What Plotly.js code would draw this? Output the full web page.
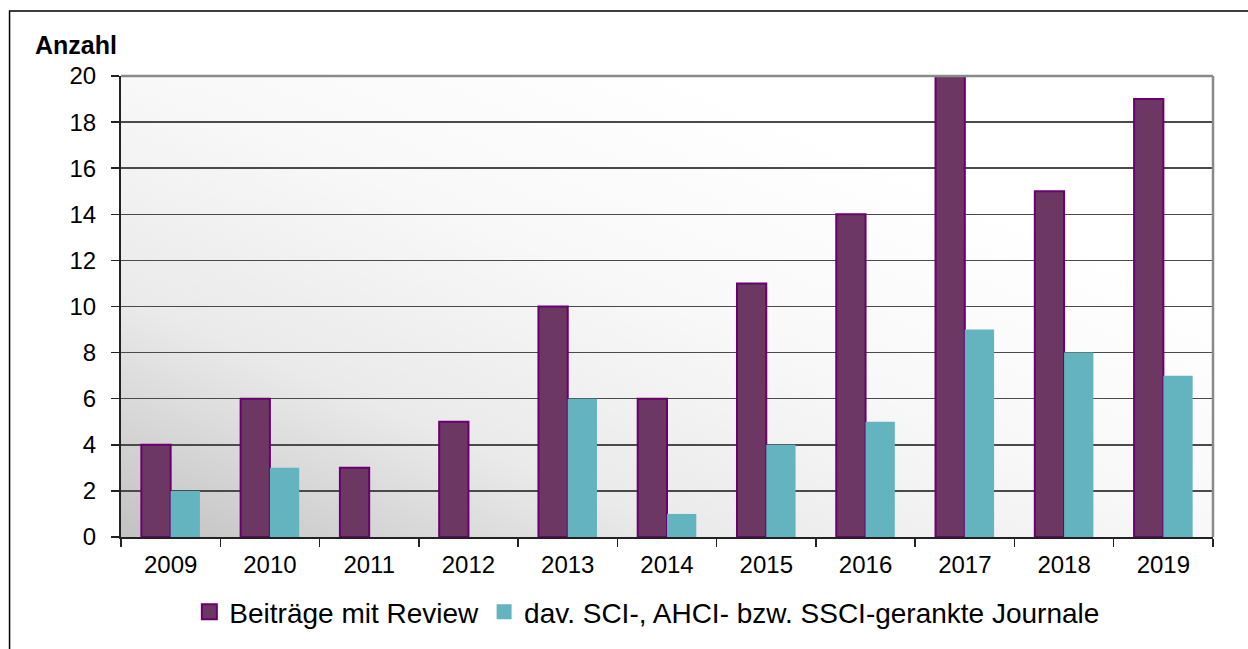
<!DOCTYPE html>
<html>
<head>
<meta charset="utf-8">
<script src="https://cdn.plot.ly/plotly-3.0.1.min.js"></script>
<style>
  html, body { margin: 0; padding: 0; background: #fff; }
  #chart { width: 1248px; height: 649px; }
</style>
</head>
<body>
<div id="chart"></div>
<script>
const years = ['2009','2010','2011','2012','2013','2014','2015','2016','2017','2018','2019'];
const reviewCounts = [4, 6, 3, 5, 10, 6, 11, 14, 20, 15, 19];
const rankedCounts = [2, 3, 0, 0, 6, 1, 4, 5, 9, 8, 7];
const seriesNames = ['Beiträge mit Review', 'dav. SCI-, AHCI- bzw. SSCI-gerankte Journale'];
const yTitle = 'Anzahl';

const W = 1248, H = 649;
const L = 121, R = 34.5, T = 76, B = 112;
const PW = W - L - R, PH = H - T - B;
const px2x = p => (p - L) / PW;
const py2y = p => (H - B - p) / PH;

// gradient background for the plot area (diagonal in normalised box space)
const cv = document.createElement('canvas');
cv.width = Math.round(PW); cv.height = Math.round(PH);
const ctx = cv.getContext('2d');
ctx.scale(cv.width, cv.height);
const g = ctx.createLinearGradient(0, 1, 1, 0);
g.addColorStop(0, '#c2c2c2');
g.addColorStop(0.26, '#eaeaea');
g.addColorStop(0.5, '#f8f8f8');
g.addColorStop(0.75, '#ffffff');
g.addColorStop(1, '#ffffff');
ctx.fillStyle = g;
ctx.fillRect(0, 0, 1, 1);
const bgUrl = cv.toDataURL('image/png');

const FONT = 'Liberation Sans, Arial, sans-serif';
const purpleFill = '#6d3763';
const purpleLine = '#6a0070';
const teal = '#63b4be';

const traces = [
  {
    type: 'bar', x: years, y: reviewCounts, name: seriesNames[0],
    marker: { color: purpleFill, line: { color: purpleLine, width: 2 } },
    showlegend: false, cliponaxis: false, hoverinfo: 'x+y'
  },
  {
    type: 'bar', x: years, y: rankedCounts, name: seriesNames[1],
    marker: { color: teal, line: { width: 0 } },
    showlegend: false, cliponaxis: false, hoverinfo: 'x+y'
  },
  {
    type: 'scatter', mode: 'markers', x: [null], y: [null], name: seriesNames[0],
    marker: { symbol: 'square', size: 15, color: purpleFill, line: { color: purpleLine, width: 2 } },
    showlegend: true, hoverinfo: 'skip'
  },
  {
    type: 'scatter', mode: 'markers', x: [null], y: [null], name: seriesNames[1],
    marker: { symbol: 'square', size: 15, color: teal, line: { width: 0 } },
    showlegend: true, hoverinfo: 'skip'
  }
];

const layout = {
  width: W, height: H,
  margin: { l: L, r: R, t: T, b: B, pad: 0 },
  paper_bgcolor: '#ffffff',
  plot_bgcolor: 'rgba(0,0,0,0)',
  font: { family: FONT, color: '#000' },
  barmode: 'group',
  bargap: 0.41,
  bargroupgap: 0,
  xaxis: {
    type: 'category',
    tickson: 'boundaries',
    ticks: 'outside', ticklen: 8, tickwidth: 1.5, tickcolor: '#222',
    showline: true, linecolor: '#222', linewidth: 2,
    showgrid: false, zeroline: false,
    tickfont: { family: FONT, size: 24, color: '#000' },
    ticklabelstandoff: 5,
    fixedrange: true
  },
  yaxis: {
    range: [0, 20], dtick: 2, tick0: 0,
    ticks: 'outside', ticklen: 8, tickwidth: 1.5, tickcolor: '#222',
    showline: true, linecolor: '#222', linewidth: 2,
    showgrid: true, gridcolor: '#4a4a4a', gridwidth: 1.5,
    zeroline: false,
    tickfont: { family: FONT, size: 24, color: '#000' },
    ticklabelstandoff: 10,
    fixedrange: true
  },
  legend: {
    orientation: 'h',
    x: 0.482, xanchor: 'center',
    y: py2y(612), yanchor: 'middle',
    font: { family: FONT, size: 28, color: '#000' },
    bgcolor: 'rgba(0,0,0,0)',
    itemclick: false, itemdoubleclick: false,
    tracegroupgap: 0
  },
  images: [{
    source: bgUrl, xref: 'paper', yref: 'paper',
    x: 0, y: 1, sizex: 1, sizey: 1, xanchor: 'left', yanchor: 'top',
    sizing: 'stretch', layer: 'below'
  }],
  shapes: [
    { type: 'line', xref: 'paper', yref: 'paper', x0: 0, x1: 1, y0: 1, y1: 1,
      line: { color: '#8a8a8a', width: 2.5 }, layer: 'above' },
    { type: 'line', xref: 'paper', yref: 'paper', x0: 1, x1: 1, y0: 0, y1: 1,
      line: { color: '#8a8a8a', width: 2.5 }, layer: 'above' },
    { type: 'rect', xref: 'paper', yref: 'paper',
      x0: px2x(9.5), x1: px2x(1260), y0: py2y(11), y1: py2y(700),
      line: { color: '#000', width: 1.5 }, fillcolor: 'rgba(0,0,0,0)', layer: 'above' }
  ],
  annotations: [{
    text: '<b>' + yTitle + '</b>',
    xref: 'paper', yref: 'paper',
    x: px2x(33), y: py2y(45), xanchor: 'left', yanchor: 'middle',
    showarrow: false,
    font: { family: FONT, size: 25, color: '#000' }
  }]
};

Plotly.newPlot('chart', traces, layout, { displayModeBar: false, staticPlot: true });
</script>
</body>
</html>
